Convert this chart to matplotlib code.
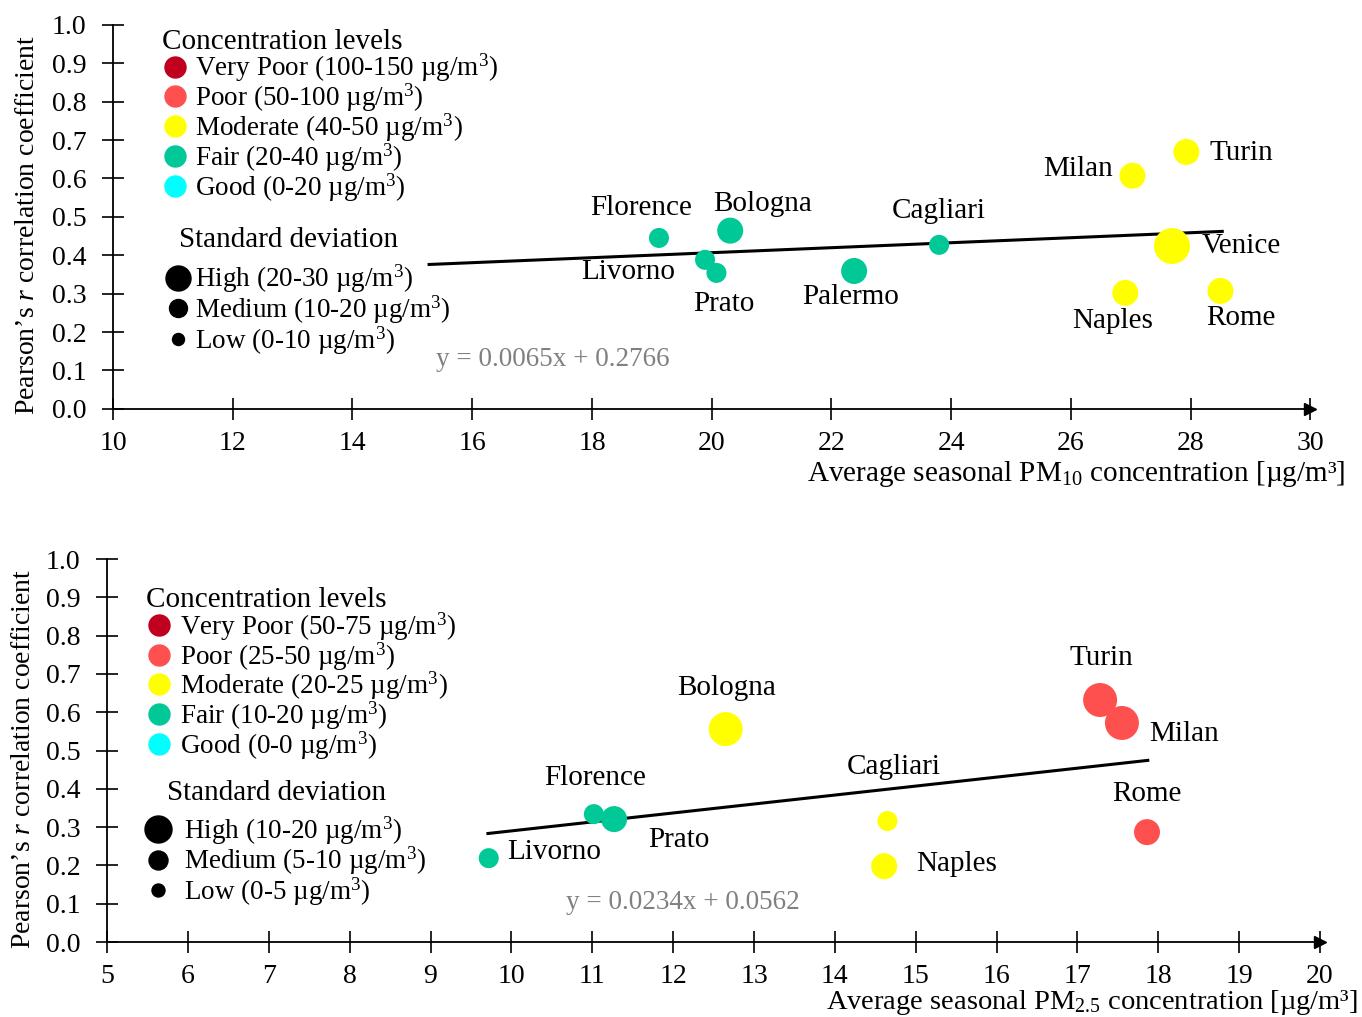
import numpy as np
import matplotlib
matplotlib.use("Agg")
import matplotlib.pyplot as plt
from matplotlib.lines import Line2D

plt.rcParams['font.family'] = ['Liberation Serif', 'DejaVu Serif']
plt.rcParams['mathtext.fontset'] = 'custom'
plt.rcParams['mathtext.rm'] = 'Liberation Serif'
plt.rcParams['mathtext.it'] = 'Liberation Serif:italic'

# ---- data: PM10 (top) ----
pm10_cities = ['Florence', 'Bologna', 'Livorno', 'Prato', 'Palermo', 'Cagliari',
               'Milan', 'Turin', 'Venice', 'Naples', 'Rome']
pm10_conc = [19.12, 20.31, 19.89, 20.08, 22.38, 23.80, 27.03, 27.93, 27.69, 26.91, 28.50]
pm10_r = [0.445, 0.464, 0.388, 0.354, 0.359, 0.427, 0.607, 0.669, 0.424, 0.302, 0.307]
pm10_sd = [14, 20, 14, 14, 20, 14, 20, 20, 30, 20, 20]
pm10_level = ['Fair', 'Fair', 'Fair', 'Fair', 'Fair', 'Fair',
              'Moderate', 'Moderate', 'Moderate', 'Moderate', 'Moderate']
pm10_fit = (0.0065, 0.2766)
pm10_fit_range = (15.28, 28.53)

# ---- data: PM2.5 (bottom) ----
pm25_cities = ['Livorno', 'Florence', 'Prato', 'Bologna', 'Cagliari', 'Naples',
               'Turin', 'Milan', 'Rome']
pm25_conc = [9.72, 11.02, 11.27, 12.65, 14.65, 14.61, 17.28, 17.55, 17.86]
pm25_r = [0.219, 0.334, 0.321, 0.556, 0.316, 0.198, 0.632, 0.572, 0.287]
pm25_sd = [7, 7, 10, 14, 7, 10, 14, 14, 10]
pm25_level = ['Fair', 'Fair', 'Fair', 'Moderate', 'Moderate', 'Moderate',
              'Poor', 'Poor', 'Poor']
pm25_fit = (0.0234, 0.0562)
pm25_fit_range = (9.71, 17.87)

level_names = ['Very Poor', 'Poor', 'Moderate', 'Fair', 'Good']
level_colors = {'Very Poor': '#C0001E', 'Poor': '#FF5050', 'Moderate': '#FFFF00',
                'Fair': '#00C896', 'Good': '#00FFFF'}
pm10_level_ranges = ['100-150', '50-100', '40-50', '20-40', '0-20']
pm25_level_ranges = ['50-75', '25-50', '20-25', '10-20', '0-0']
sd_names = ['High', 'Medium', 'Low']
pm10_sd_ranges = ['20-30', '10-20', '0-10']
pm25_sd_ranges = ['10-20', '5-10', '0-5']

# label offsets (pixels) for city names
pm10_offsets = {'Florence': (-18, 30), 'Bologna': (32, 27), 'Livorno': (-77, -12),
                'Prato': (7, -31), 'Palermo': (-3, -26), 'Cagliari': (0, 34),
                'Milan': (-54, 7), 'Turin': (55, -1), 'Venice': (69, 0),
                'Naples': (-13, -28), 'Rome': (20, -27)}
pm25_offsets = {'Livorno': (65, 6), 'Florence': (1, 36), 'Prato': (65, -21),
                'Bologna': (1, 41), 'Cagliari': (6, 54), 'Naples': (72, 2),
                'Turin': (1, 42), 'Milan': (62, -11), 'Rome': (0, 38)}

FS_TICK = 20
FS_LEG = 19.5
FS_TITLE = 21
FS_CITY = 21
FS_LABEL = 21
UNIT = 'µg/m$^{3}$'


def marker_pt(radius_px):
    # marker diameter in points from radius in pixels (dpi 100)
    return 2 * radius_px * 0.72


def style_axes(ax, xlim, xticks):
    ax.set_xlim(*xlim)
    ax.set_ylim(0, 1.0)
    ax.set_xticks(xticks)
    ax.set_yticks(np.arange(0, 1.01, 0.1))
    ax.set_yticklabels([f'{v:.1f}' for v in np.arange(0, 1.01, 0.1)])
    for s in ['top', 'right']:
        ax.spines[s].set_visible(False)
    for s in ['left', 'bottom']:
        ax.spines[s].set_linewidth(1.3)
    ax.tick_params(direction='inout', length=16, width=1.2, labelsize=FS_TICK)
    ax.tick_params(axis='y', pad=11)
    ax.tick_params(axis='x', pad=8)
    ax.plot(1, 0, '>k', ms=8, transform=ax.get_yaxis_transform(), clip_on=False)
    ax.plot(0, 1, '^k', ms=8, transform=ax.get_xaxis_transform(), clip_on=False)


def draw_panel(ax, cities, conc, r, sd, level, fit, fit_range, offsets, sd_scale):
    radii = [3 + sd_scale * s for s in sd]
    ax.scatter(conc, r, s=[marker_pt(rr) ** 2 for rr in radii],
               c=[level_colors[l] for l in level], edgecolors='none', zorder=3)
    xs = np.array(fit_range)
    ax.plot(xs, fit[0] * xs + fit[1], color='black', lw=2.2, zorder=2)
    for name, x, y in zip(cities, conc, r):
        ax.annotate(name, (x, y), xytext=offsets[name], textcoords='offset pixels',
                    ha='center', va='center', fontsize=FS_CITY)


def add_legends(ax, level_ranges, sd_ranges, pos1, title2_pos, pos2, sd_radii, textpad2):
    h1 = [Line2D([], [], marker='o', ls='none', ms=marker_pt(10.5),
                 color=level_colors[n]) for n in level_names]
    l1 = [f'{n} ({rg} {UNIT})' for n, rg in zip(level_names, level_ranges)]
    leg1 = ax.legend(h1, l1, title='Concentration levels', loc='upper left',
                     bbox_to_anchor=pos1, frameon=False, fontsize=FS_LEG,
                     title_fontsize=FS_TITLE, handlelength=1.0, handletextpad=0.25,
                     labelspacing=-0.1, borderpad=0, borderaxespad=0,
                     alignment='left')
    ax.add_artist(leg1)
    ax.text(*title2_pos, 'Standard deviation', transform=ax.transAxes,
            fontsize=FS_TITLE, ha='left', va='center')
    h2 = [Line2D([], [], marker='o', ls='none', ms=marker_pt(rr), color='black')
          for rr in sd_radii]
    l2 = [f'{n} ({rg} {UNIT})' for n, rg in zip(sd_names, sd_ranges)]
    ax.legend(h2, l2, loc='upper left',
              bbox_to_anchor=pos2, frameon=False, fontsize=FS_LEG,
              handlelength=1.0, handletextpad=textpad2,
              labelspacing=-0.06, borderpad=0, borderaxespad=0)


fig = plt.figure(figsize=(13.62, 10.17), dpi=100)
ax1 = fig.add_axes([0.083, 0.598, 0.879, 0.3776])
ax2 = fig.add_axes([0.0786, 0.0737, 0.8906, 0.3766])

# top panel
style_axes(ax1, (10, 30), np.arange(10, 31, 2))
draw_panel(ax1, pm10_cities, pm10_conc, pm10_r, pm10_sd, pm10_level,
           pm10_fit, pm10_fit_range, pm10_offsets, 0.5)
add_legends(ax1, pm10_level_ranges, pm10_sd_ranges, (0.0405, 0.99),
            (0.055, 0.44), (0.043, 0.38), [12.5, 9, 6], 0.12)
ax1.text(17.35, 0.128, f'y = {pm10_fit[0]}x + {pm10_fit[1]}',
         color='#808080', fontsize=FS_LEG, ha='center', va='center')
ax1.set_xlabel('Average seasonal PM$_{10}$ concentration [µg/m³]',
               fontsize=FS_LABEL, ha='right')
ax1.xaxis.set_label_coords(1.029, -0.13)
ax1.set_ylabel("Pearson’s $r$ correlation coefficient", fontsize=20)
ax1.yaxis.set_label_coords(-0.061, 0.48)

# bottom panel
style_axes(ax2, (5, 20), np.arange(5, 21, 1))
draw_panel(ax2, pm25_cities, pm25_conc, pm25_r, pm25_sd, pm25_level,
           pm25_fit, pm25_fit_range, pm25_offsets, 1.0)
add_legends(ax2, pm25_level_ranges, pm25_sd_ranges, (0.032, 0.927),
            (0.0495, 0.389), (0.031, 0.334), [13.5, 9.5, 6.5], 0.45)
ax2.text(12.12, 0.104, f'y = {pm25_fit[0]}x + {pm25_fit[1]}',
         color='#808080', fontsize=FS_LEG, ha='center', va='center')
ax2.set_xlabel('Average seasonal PM$_{2.5}$ concentration [µg/m³]',
               fontsize=20.5, ha='right')
ax2.xaxis.set_label_coords(1.031, -0.12)
ax2.set_ylabel("Pearson’s $r$ correlation coefficient", fontsize=20)
ax2.yaxis.set_label_coords(-0.0585, 0.478)

fig.savefig('out.png', dpi=100, facecolor='white')
